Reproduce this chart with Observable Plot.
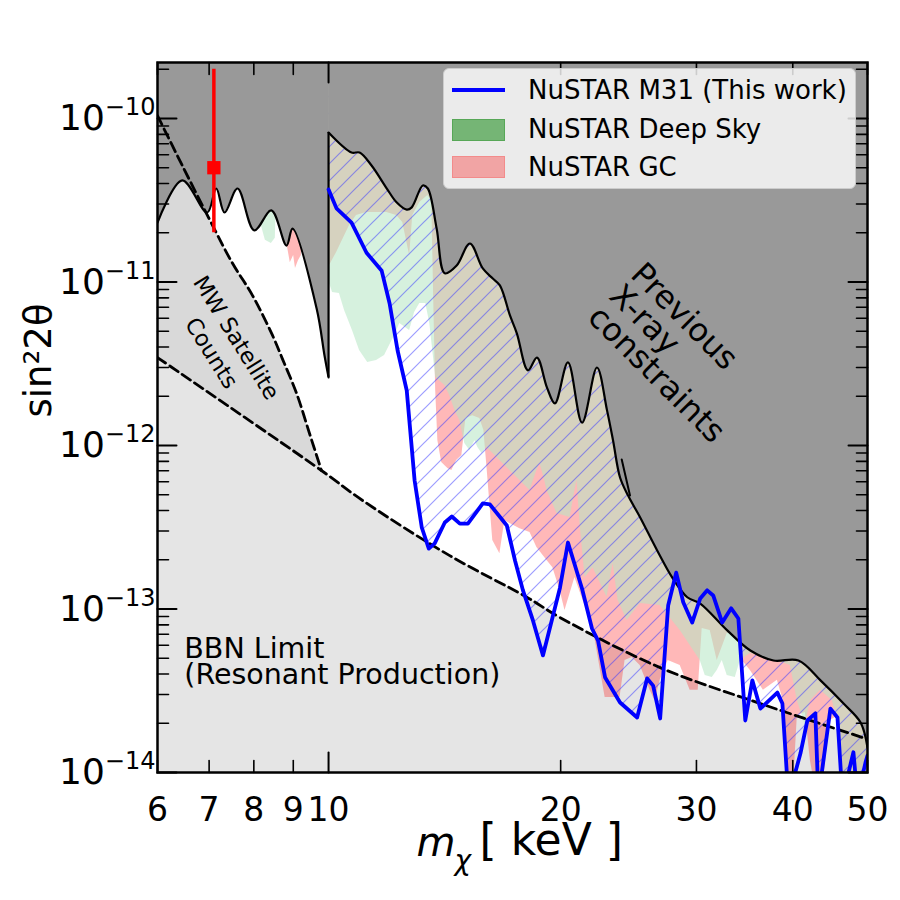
<!DOCTYPE html>
<html>
<head>
<meta charset="utf-8">
<script src="https://cdn.jsdelivr.net/npm/d3@7"></script>
<script src="https://cdn.jsdelivr.net/npm/@observablehq/plot@0.6"></script>
<style>
  html, body { margin: 0; padding: 0; background: #fff; }
  #chart { position: relative; width: 900px; height: 900px; font-family: "DejaVu Sans", sans-serif; }
  #chart svg { display: block; }
  .legend { position: absolute; left: 443px; top: 68px; width: 413px; height: 121px; box-sizing: border-box;
    background: rgba(255,255,255,0.8); border: 1px solid #cccccc; border-radius: 6px; }
  .legend .key { position: absolute; left: 8px; width: 53px; box-sizing: border-box; }
  .legend .label { position: absolute; left: 84px; font-size: 26px; line-height: 30px; color: #000; white-space: nowrap; }
</style>
</head>
<body>
<svg width="0" height="0" style="position:absolute">
  <defs>
    <pattern id="m31-hatch" patternUnits="userSpaceOnUse" width="17" height="17">
      <path d="M-2,2 L2,-2 M0,17 L17,0 M15,19 L19,15" stroke="#3a3aff" stroke-opacity="0.5" stroke-width="1.2" fill="none"/>
    </pattern>
  </defs>
</svg>
<div id="chart">
  <div class="legend">
    <div class="key" style="top:19px;height:4px;background:#0000ff"></div>
    <div class="label" style="top:6px">NuSTAR M31 (This work)</div>
    <div class="key" style="top:50px;height:22px;background:rgba(0,128,0,0.5);border:1px solid rgba(0,128,0,0.25)"></div>
    <div class="label" style="top:45px">NuSTAR Deep Sky</div>
    <div class="key" style="top:87px;height:22px;background:rgba(255,0,0,0.3);border:1px solid rgba(255,0,0,0.15)"></div>
    <div class="label" style="top:83px">NuSTAR GC</div>
  </div>
</div>
<script>
// Previous X-ray limit, below and above the 10 keV jump (m in keV, sin^2 2θ)
const xrayLowM = [6.0, 6.46, 6.96, 7.15, 7.33, 7.62, 8.01, 8.43, 8.82, 8.98, 9.65, 9.88, 10.0];
const xrayLowS = [2.31e-11, 4.18e-11, 2.66e-11, 3.73e-11, 2.66e-11, 3.73e-11, 2.07e-11, 2.74e-11, 1.67e-11, 2.12e-11, 6.89e-12, 3.55e-12, 2.61e-12];
const xrayHighM = [10.0, 10.71, 10.97, 11.37, 11.90, 12.26, 12.63, 12.82, 13.25, 13.45, 13.81, 14.15, 14.66, 15.25, 15.85, 16.33, 16.68, 17.19, 17.55, 18.14, 18.63, 19.20, 19.66, 20.44, 21.32, 22.29, 22.97, 23.39, 23.88, 24.46, 25.36, 26.68, 27.90, 29.19, 30.34, 32.89, 35.24, 37.76, 40.68, 43.45, 46.55, 48.98, 50.0];
const xrayHighS = [8.20e-11, 6.19e-11, 6.19e-11, 5.16e-11, 3.73e-11, 3.06e-11, 2.77e-11, 2.86e-11, 3.89e-11, 3.73e-11, 2.12e-11, 1.13e-11, 1.26e-11, 1.72e-11, 1.21e-11, 1.05e-11, 9.53e-12, 6.24e-12, 4.84e-12, 2.88e-12, 3.45e-12, 2.26e-12, 1.81e-12, 3.22e-12, 1.38e-12, 3.00e-12, 1.64e-12, 1.07e-12, 6.37e-13, 4.94e-13, 3.63e-13, 2.28e-13, 1.56e-13, 1.18e-13, 1.08e-13, 7.40e-14, 5.57e-14, 4.84e-14, 4.84e-14, 3.66e-14, 2.64e-14, 2.02e-14, 1.42e-14];
const xraySpurM = [24.0, 24.6];
const xraySpurS = [8.2e-13, 4.94e-13];

// NuSTAR Deep Sky limit
const deepM = [6.0, 8.09, 8.18, 8.28, 8.43, 8.53, 8.61, 10.0, 10.03, 10.12, 10.33, 10.49, 10.74, 10.97, 11.24, 11.54, 11.82, 12.18, 12.37, 12.74, 12.93, 13.13, 13.37, 13.53, 13.65, 13.77, 14.15, 14.36, 14.58, 14.80, 15.02, 15.25, 15.48, 15.62, 15.81, 16.05, 16.68, 17.55, 18.25, 18.63, 18.80, 19.03, 19.20, 19.78, 20.57, 20.87, 21.00, 21.19, 21.51, 22.03, 22.97, 23.39, 23.74, 24.39, 25.36, 26.92, 28.58, 30.34, 30.80, 31.45, 31.92, 32.40, 32.89, 33.69, 34.20, 35.24, 38.20, 39.71, 40.55, 41.53, 42.16, 43.45, 45.03, 45.71, 46.40, 50.0];
const deepS = [1e-10, 1e-10, 2.22e-11, 1.80e-11, 1.72e-11, 1.85e-11, 1e-10, 1e-10, 9.80e-12, 8.63e-12, 8.51e-12, 6.70e-12, 5.05e-12, 3.81e-12, 3.22e-12, 3.31e-12, 3.55e-12, 4.71e-12, 5.57e-12, 5.05e-12, 6.50e-12, 7.39e-12, 7.39e-12, 5.57e-12, 3.81e-12, 2.61e-12, 2.33e-12, 2.02e-12, 1.64e-12, 1.42e-12, 1.03e-12, 9.31e-13, 1.07e-12, 9.73e-13, 8.93e-13, 9.73e-13, 8.09e-13, 6.37e-13, 5.31e-13, 7.03e-13, 7.76e-13, 6.37e-13, 5.31e-13, 3.84e-13, 3.63e-13, 5.31e-13, 6.11e-13, 3.33e-13, 1.56e-13, 1.79e-13, 1.18e-13, 1.90e-13, 1.13e-13, 8.51e-14, 1.08e-13, 1.05e-13, 7.40e-14, 4.84e-14, 3.92e-14, 3.81e-14, 4.21e-14, 4.84e-14, 3.92e-14, 3.81e-14, 4.84e-14, 5.35e-14, 4.84e-14, 4.51e-14, 2.75e-14, 1.94e-14, 2.75e-14, 3.18e-14, 2.75e-14, 2.08e-14, 8e-15, 8e-15];

// NuSTAR Galactic Center limit
const gcM = [6.0, 8.79, 8.84, 8.92, 9.01, 9.06, 9.14, 9.22, 9.28, 10.0, 10.03, 10.24, 10.65, 10.87, 11.20, 11.90, 12.26, 12.48, 12.66, 12.74, 12.86, 13.13, 13.45, 13.61, 13.69, 13.77, 13.86, 14.02, 14.28, 14.45, 14.66, 14.89, 15.07, 15.38, 15.71, 15.90, 16.05, 16.33, 16.68, 16.93, 17.19, 17.71, 18.25, 18.63, 19.20, 19.54, 19.96, 20.26, 20.87, 21.38, 22.03, 22.84, 23.88, 24.24, 24.76, 25.36, 26.12, 26.51, 26.92, 27.57, 28.58, 29.44, 30.16, 30.52, 31.26, 31.92, 32.89, 33.89, 34.40, 35.24, 36.64, 38.20, 38.89, 39.36, 40.07, 40.55, 41.53, 42.16, 42.79, 43.70, 44.76, 45.84, 46.40, 50.0];
const gcS = [1e-10, 1e-10, 1.67e-11, 1.31e-11, 1.45e-11, 1.21e-11, 1.35e-11, 1.45e-11, 1e-10, 1e-10, 1.26e-11, 1.51e-11, 2.22e-11, 2.55e-11, 2.66e-11, 2.66e-11, 2.55e-11, 2.31e-11, 1.67e-11, 1.45e-11, 2.55e-11, 3.06e-11, 3.38e-11, 3.15e-11, 7.71e-12, 2.17e-12, 1.07e-12, 7.87e-13, 7.22e-13, 7.03e-13, 8.09e-13, 8.69e-13, 1.46e-12, 1.52e-12, 1.46e-12, 1.24e-12, 7.33e-13, 2.62e-13, 2.18e-13, 3.48e-13, 3.33e-13, 3.10e-13, 2.94e-13, 2.38e-13, 1.98e-13, 1.79e-13, 1.30e-13, 9.80e-14, 1.56e-13, 1.13e-13, 7.71e-14, 2.88e-14, 2.88e-14, 4.84e-14, 5.05e-14, 4.51e-14, 3.18e-14, 2.75e-14, 3.66e-14, 4.84e-14, 4.51e-14, 3.18e-14, 3.18e-14, 7.60e-14, 7.40e-14, 4.84e-14, 7.08e-14, 7.08e-14, 4.84e-14, 4.21e-14, 3.18e-14, 3.66e-14, 2.75e-14, 8e-15, 8e-15, 2.23e-14, 2.33e-14, 1.18e-14, 8e-15, 8e-15, 2.08e-14, 2.23e-14, 8e-15, 8e-15];

// NuSTAR M31 limit (this work)
const m31M = [10.0, 10.24, 10.71, 11.20, 11.72, 12.00, 12.29, 12.63, 12.93, 13.21, 13.49, 13.73, 14.15, 14.45, 14.80, 15.16, 15.85, 16.19, 17.03, 17.45, 17.87, 18.41, 18.97, 19.96, 20.44, 21.32, 21.96, 22.36, 22.84, 23.88, 25.13, 25.89, 26.36, 26.92, 27.57, 28.24, 28.84, 29.62, 30.34, 30.98, 31.54, 32.40, 33.28, 34.00, 34.71, 35.45, 36.31, 38.20, 38.78, 39.48, 40.93, 41.78, 42.79, 43.18, 44.76, 45.71, 46.40, 47.94, 48.53, 49.70, 50.0];
const m31S = [3.68e-11, 2.82e-11, 2.31e-11, 1.51e-11, 1.17e-11, 7.39e-12, 3.81e-12, 2.17e-12, 6.11e-13, 3.15e-13, 2.34e-13, 2.52e-13, 3.38e-13, 3.68e-13, 3.33e-13, 3.33e-13, 4.42e-13, 4.36e-13, 3.24e-13, 1.98e-13, 1.30e-13, 8.51e-14, 5.20e-14, 1.35e-13, 2.55e-13, 1.33e-13, 7.60e-14, 6.41e-14, 3.81e-14, 2.68e-14, 2.17e-14, 3.76e-14, 3.40e-14, 2.14e-14, 1.05e-13, 1.67e-13, 1.10e-13, 8.26e-14, 1.16e-13, 1.30e-13, 1.21e-13, 8.26e-14, 1.01e-13, 8.75e-14, 2.08e-14, 3.66e-14, 2.46e-14, 3.08e-14, 2.64e-14, 7e-15, 1.31e-14, 2.08e-14, 2.30e-14, 7e-15, 2.46e-14, 2.17e-14, 7e-15, 1.33e-14, 7e-15, 1.15e-14, 1.27e-14];

// BBN (resonant production) lower bound and Milky Way satellite-count bound
const bbnM = [6.0, 9.79, 11.07, 14.36, 18.08, 19.96, 26.92, 36.31, 50.0];
const bbnS = [3.45e-12, 7.03e-13, 4.61e-13, 2.12e-13, 1.18e-13, 8.87e-14, 4.38e-14, 2.64e-14, 1.60e-14];
const mwM = [6.0, 6.46, 7.0, 7.50, 7.97, 8.46, 8.71, 9.09, 9.45, 9.79];
const mwS = [1.04e-10, 5.16e-11, 2.44e-11, 1.31e-11, 8.26e-12, 4.71e-12, 3.40e-12, 2.08e-12, 1.18e-12, 7.03e-13];

// 3.5 keV line signal (7.1 keV sterile neutrino)
const lineM = [7.1];
const lineS = [5e-11];
const lineLo = [2e-11];
const lineHi = [2e-10];

// Axis ticks
const xTickLabels = [6, 7, 8, 9, 10, 20, 30, 40, 50];
const xMajor = [10];
const xMinor = [6, 7, 8, 9, 20, 30, 40, 50];
const yMajor = [1e-14, 1e-13, 1e-12, 1e-11, 1e-10];
const yMinor = [];
for (let k = -14; k <= -11; k++) for (let j = 2; j <= 9; j++) yMinor.push(j * Math.pow(10, k));
yMinor.push(2e-10);

const rows = (ms, ss) => ms.map((m, i) => ({m, s: ss[i]}));
const xrayLow = rows(xrayLowM, xrayLowS);
const xrayHigh = rows(xrayHighM, xrayHighS);
const xraySpur = rows(xraySpurM, xraySpurS);
const deep = rows(deepM, deepS);
const gc = rows(gcM, gcS);
const m31 = rows(m31M, m31S);
const bbn = rows(bbnM, bbnS);
const mw = rows(mwM, mwS);
const signal = lineM.map((m, i) => ({m, s: lineS[i], lo: lineLo[i], hi: lineHi[i]}));

const Y0 = 1e-14, CEIL = 1e-9;
const tickShape = {draw(context, l) { context.moveTo(0, 0); context.lineTo(0, -l); }};
const ticks = (data, anchor, rotate, length, strokeWidth) => Plot.vector(data, {
  [anchor === "bottom" || anchor === "top" ? "x" : "y"]: d => d,
  frameAnchor: anchor, rotate, length, anchor: "start", shape: tickShape,
  stroke: "black", strokeWidth
});

const chart = Plot.plot({
  width: 900, height: 900,
  marginLeft: 157, marginRight: 33, marginTop: 62, marginBottom: 128,
  x: {type: "log", domain: [6, 50], axis: null},
  y: {type: "log", domain: [1e-14, 2.2e-10], axis: null},
  style: {fontFamily: "DejaVu Sans", background: "white", color: "black"},
  marks: [
    // excluded regions
    Plot.areaY(mw, {x: "m", y1: Y0, y2: "s", curve: "catmull-rom", fill: "#d9d9d9", clip: true}),
    Plot.areaY(bbn, {x: "m", y1: Y0, y2: "s", curve: "catmull-rom", fill: "#e5e5e5", clip: true}),
    Plot.areaY(gc, {x: "m", y1: "s", y2: CEIL, fill: "#ff0000", fillOpacity: 0.28, clip: true}),
    Plot.areaY(deep, {x: "m", y1: "s", y2: CEIL, fill: "rgb(182,230,196)", fillOpacity: 0.56, clip: true}),
    Plot.areaY(m31, {x: "m", y1: "s", y2: CEIL, fill: "url(#m31-hatch)", clip: true}),
    Plot.areaY(xrayLow, {x: "m", y1: "s", y2: CEIL, curve: "catmull-rom", fill: "#999999", clip: true}),
    Plot.areaY(xrayHigh, {x: "m", y1: "s", y2: CEIL, curve: "catmull-rom", fill: "#999999", clip: true}),
    // boundary curves
    Plot.line(xrayLow, {x: "m", y: "s", curve: "catmull-rom", stroke: "black", strokeWidth: 2.2, clip: true}),
    Plot.line(xrayHigh, {x: "m", y: "s", curve: "catmull-rom", stroke: "black", strokeWidth: 2.2, clip: true}),
    Plot.line(xraySpur, {x: "m", y: "s", stroke: "black", strokeWidth: 2, clip: true}),
    Plot.ruleX([xrayLowM[xrayLowM.length - 1]], {y1: xrayLowS[xrayLowS.length - 1], y2: xrayHighS[0], stroke: "black", strokeWidth: 2.2}),
    Plot.line(bbn, {x: "m", y: "s", curve: "catmull-rom", stroke: "black", strokeWidth: 2.8, strokeDasharray: "10,5", clip: true}),
    Plot.line(mw, {x: "m", y: "s", curve: "catmull-rom", stroke: "black", strokeWidth: 2.8, strokeDasharray: "10,5", clip: true}),
    Plot.line(m31, {x: "m", y: "s", stroke: "#0000ff", strokeWidth: 3.8, clip: true}),
    // 7.1 keV line
    Plot.ruleX(signal, {x: "m", y1: "lo", y2: "hi", stroke: "red", strokeWidth: 3.5}),
    Plot.dot(signal, {x: "m", y: "s", symbol: "square", r: 7.5, fill: "red"}),
    // region labels
    Plot.text(["BBN Limit\n(Resonant Production)"], {x: 6.5, y: 4.67e-14, text: d => d, textAnchor: "start", fontSize: 28.5, lineHeight: 0.9, fill: "black"}),
    Plot.text(["MW Satellite\nCounts"], {x: 7.35, y: 4.15e-12, text: d => d, rotate: 58, fontSize: 22.5, lineHeight: 1.3, fill: "black"}),
    Plot.text(["Previous\nX-ray\nconstraints"], {x: 23.5, y: 8.87e-12, text: d => d, rotate: 45, textAnchor: "start", fontSize: 32, lineHeight: 0.95, fill: "black"}),
    // axis labels
    Plot.axisX({ticks: xTickLabels, tickSize: 0, tickPadding: 25, fontSize: 33, tickFormat: d => String(d), label: null}),
    Plot.axisY({ticks: yMajor, tickSize: 0, tickPadding: 2, fontSize: 36, tickFormat: d => "10^" + Math.round(Math.log10(d)), label: null}),
    Plot.text(["sin\u00b22\u03b8"], {frameAnchor: "left", text: d => d, dx: -118, rotate: -90, fontSize: 37, fill: "black"}),
    Plot.text(["m"], {frameAnchor: "bottom", text: d => d, dx: -96, dy: 83, textAnchor: "start", fontStyle: "italic", fontSize: 40, fill: "black"}),
    Plot.text(["\u03c7"], {frameAnchor: "bottom", text: d => d, dx: -58, dy: 97, textAnchor: "start", fontStyle: "italic", fontSize: 28, fill: "black"}),
    Plot.text(["[ keV ]"], {frameAnchor: "bottom", text: d => d, dx: -33, dy: 82, textAnchor: "start", fontSize: 44, fill: "black"}),
    // inward ticks on all four sides
    ticks(xMinor, "bottom", 0, 12, 1.6), ticks(xMajor, "bottom", 0, 20, 2),
    ticks(xMinor, "top", 180, 12, 1.6), ticks(xMajor, "top", 180, 20, 2),
    ticks(yMinor, "left", 90, 11, 1.6), ticks(yMajor, "left", 90, 19, 2),
    ticks(yMinor, "right", -90, 11, 1.6), ticks(yMajor, "right", -90, 19, 2),
    Plot.frame({stroke: "black", strokeWidth: 2.5})
  ]
});

// power-of-ten labels: base plus raised exponent
d3.select(chart).selectAll('g[aria-label="y-axis tick label"] text').each(function () {
  const match = /^10\^(-?\d+)$/.exec(this.textContent);
  if (!match) return;
  const el = d3.select(this);
  el.text(null);
  el.append("tspan").text("10");
  el.append("tspan").attr("dy", "-15").attr("font-size", "24px").text("\u2212" + Math.abs(+match[1]));
});

document.getElementById("chart").prepend(chart);
</script>
</body>
</html>
